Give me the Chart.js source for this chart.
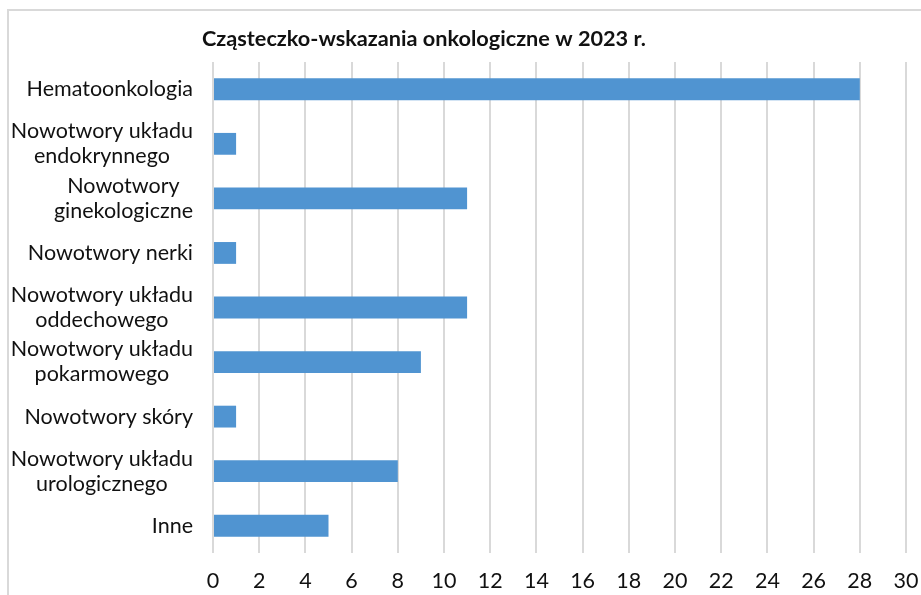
<!DOCTYPE html>
<html>
<head>
<meta charset="utf-8">
<script src="https://cdn.jsdelivr.net/npm/chart.js@4/dist/chart.umd.min.js"></script>
<style>
  body { margin: 0; background: #fff; overflow: hidden; }
  #frame { position: absolute; left: 7px; top: 9px; width: 1000px; height: 700px; border: 2px solid #d9d9d9; }
  #canvas { position: absolute; left: 0; top: 0; }
</style>
</head>
<body>
<div id="frame"></div>
<canvas id="canvas" width="921" height="595"></canvas>
<script>
const title = 'Cząsteczko-wskazania onkologiczne w 2023 r.'

const categories = [
  ['Hematoonkologia'],
  ['Nowotwory układu', 'endokrynnego'],
  ['Nowotwory', 'ginekologiczne'],
  ['Nowotwory nerki'],
  ['Nowotwory układu', 'oddechowego'],
  ['Nowotwory układu', 'pokarmowego'],
  ['Nowotwory skóry'],
  ['Nowotwory układu', 'urologicznego'],
  ['Inne'],
]
const values = [28, 1, 11, 1, 11, 9, 1, 8, 5]
const xMin = 0
const xMax = 30
const xStep = 2

const font = 'Lato'

// y labels: block right aligned, lines centered inside the block (like Excel)
const labelPlugin = {
  id: 'labelPlugin',
  afterDraw(chart) {
    const ctx = chart.ctx
    const yScale = chart.scales.y
    ctx.save()
    ctx.fillStyle = '#111'
    ctx.font = '21.5px ' + font
    ctx.textAlign = 'center'
    ctx.textBaseline = 'middle'
    const right = chart.chartArea.left - 20
    const lineH = 25
    categories.forEach((lines, i) => {
      const y = yScale.getPixelForTick(i)
      const w = Math.max(...lines.map(l => ctx.measureText(l).width))
      const cx = right - w / 2
      lines.forEach((l, j) => {
        ctx.fillText(l, cx, y + (j - (lines.length - 1) / 2) * lineH)
      })
    })
    ctx.font = 'bold 21.7px ' + font
    ctx.textAlign = 'left'
    ctx.fillText(title, 202, 39)
    ctx.restore()
  },
}

const data = {
  labels: categories,
  datasets: [
    {
      data: values,
      backgroundColor: '#5094d1',
      barPercentage: 0.4,
      categoryPercentage: 1,
    },
  ],
}

const config = {
  type: 'bar',
  data: data,
  options: {
    indexAxis: 'y',
    responsive: false,
    animation: false,
    layout: { padding: { top: 62, right: 15, bottom: 0, left: 0 } },
    plugins: {
      legend: { display: false },
      tooltip: { enabled: false },
    },
    scales: {
      x: {
        min: xMin,
        max: xMax,
        ticks: {
          stepSize: xStep,
          padding: 15,
          color: '#111',
          font: { family: font, size: 21.5 },
        },
        grid: { color: '#d9d9d9', lineWidth: 2, drawTicks: false },
        border: { display: false },
        afterFit(scale) {
          scale.height = 42
          scale.paddingRight = 0
          scale.paddingLeft = 0
        },
      },
      y: {
        ticks: { display: false },
        grid: { display: false },
        border: { display: false },
        afterFit(scale) { scale.width = 213 },
      },
    },
  },
  plugins: [labelPlugin],
}

const canvas = document.getElementById('canvas')
const chart = new Chart(canvas, config)
</script>
</body>
</html>
